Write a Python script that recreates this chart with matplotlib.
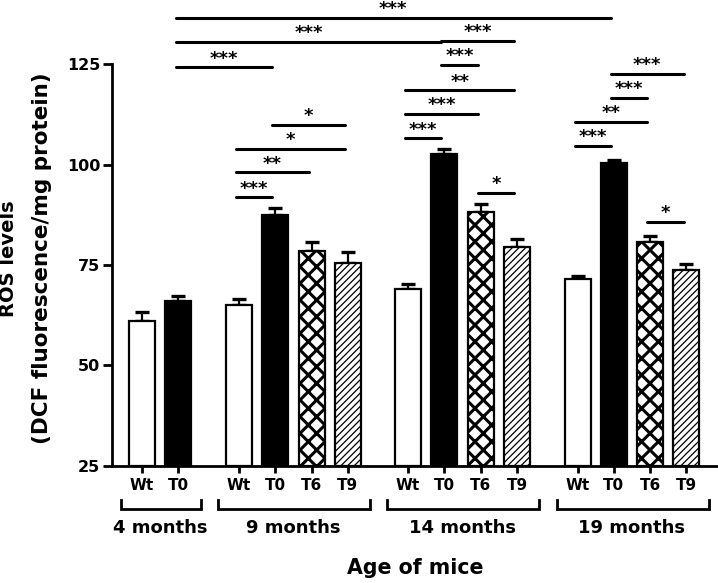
"""ROS levels by age of mice, grouped bar chart with significance brackets"""
import matplotlib
matplotlib.use("Agg")
import matplotlib.pyplot as plt

plt.rcParams["font.family"] = ["DejaVu Sans"]
plt.rcParams["font.weight"] = "bold"
plt.rcParams["hatch.linewidth"] = 2.0

GROUPS = ["4 months", "9 months", "14 months", "19 months"]
GROUP_START = [0.0, 2.67, 7.33, 12.0]
LABELS = [["Wt", "T0"], ["Wt", "T0", "T6", "T9"], ["Wt", "T0", "T6", "T9"], ["Wt", "T0", "T6", "T9"]]
MEANS = [[61.1, 66.0], [65.0, 87.4, 78.5, 75.4], [69.0, 102.6, 88.3, 79.6], [71.5, 100.4, 80.6, 73.8]]
ERRORS = [[2.2, 1.4], [1.5, 1.8, 2.3, 2.9], [1.3, 1.2, 1.9, 1.9], [0.8, 0.7, 1.7, 1.4]]

STYLE = {"Wt": ("white", ""), "T0": ("black", ""), "T6": ("white", "xx"), "T9": ("white", "/////")}

# significance brackets: (group a, bar a, group b, bar b, height, stars)
BRACKETS = [
    (0, 1, 3, 1, 136.5, "***"),
    (0, 1, 2, 1, 130.6, "***"),
    (0, 1, 1, 1, 124.2, "***"),
    (1, 0, 1, 1, 91.8, "***"),
    (1, 0, 1, 2, 98.1, "**"),
    (1, 0, 1, 3, 103.9, "*"),
    (1, 1, 1, 3, 109.9, "*"),
    (2, 0, 2, 1, 106.5, "***"),
    (2, 0, 2, 2, 112.6, "***"),
    (2, 0, 2, 3, 118.5, "**"),
    (2, 1, 2, 2, 124.8, "***"),
    (2, 1, 2, 3, 130.8, "***"),
    (2, 2, 2, 3, 93.0, "*"),
    (3, 0, 3, 1, 104.6, "***"),
    (3, 0, 3, 2, 110.6, "**"),
    (3, 1, 3, 2, 116.6, "***"),
    (3, 1, 3, 3, 122.6, "***"),
    (3, 2, 3, 3, 85.8, "*"),
]

fig = plt.figure(figsize=(7.18, 5.83), dpi=100)
ax = fig.add_axes([0.156, 0.2007, 0.844, 0.6895])

ticks, ticklabels = [], []
for g, labels in enumerate(LABELS):
    xs = [GROUP_START[g] + i for i in range(len(labels))]
    for x, lab, m, e in zip(xs, labels, MEANS[g], ERRORS[g]):
        face, hatch = STYLE[lab]
        ax.errorbar(x, m, yerr=[[0], [e]], fmt="none", ecolor="black",
                    elinewidth=1.6, capsize=5, capthick=2.4, zorder=1)
        bars = ax.bar(x, m - 25, bottom=25, width=0.72, color=face, edgecolor="black",
                      linewidth=1.6, hatch=hatch, zorder=2)
        if hasattr(bars[0], "set_hatch_linewidth"):
            bars[0].set_hatch_linewidth(2.2 if hatch == "xx" else 0.9)
        ticks.append(x)
        ticklabels.append(lab)
    # group bracket below the axis
    tr = ax.get_xaxis_transform()
    x0, x1 = xs[0] - 0.58, xs[-1] + 0.62
    ax.plot([x0, x0, x1, x1], [-0.085, -0.107, -0.107, -0.085], color="black",
            lw=2.0, transform=tr, clip_on=False, solid_joinstyle="miter")
    ax.text((xs[0] + xs[-1]) / 2, -0.154, GROUPS[g], transform=tr, ha="center",
            va="center", fontsize=13, fontweight="bold")

for ga, ia, gb, ib, h, stars in BRACKETS:
    xa = GROUP_START[ga] + ia - 0.08
    xb = GROUP_START[gb] + ib - 0.08
    ax.plot([xa, xb], [h, h], color="black", lw=2.2, clip_on=False, solid_capstyle="round")
    ax.text((xa + xb) / 2, h + 0.9, stars, ha="center", va="baseline", fontsize=13,
            fontweight="bold", clip_on=False)

ax.set_xlim(-0.83, 15.87)
ax.set_ylim(25, 125)
ax.set_yticks([25, 50, 75, 100, 125])
ax.set_xticks(ticks)
ax.set_xticklabels(ticklabels, fontsize=11, fontweight="bold")
ax.tick_params(axis="y", labelsize=11.5, width=2, length=6.5, pad=2)
ax.tick_params(axis="x", width=2, length=5, pad=4)
for lab in ax.get_yticklabels():
    lab.set_fontweight("bold")
ax.spines["top"].set_visible(False)
ax.spines["right"].set_visible(False)
ax.spines["left"].set_linewidth(2)
ax.spines["bottom"].set_linewidth(2)

ax.text(0.5, -0.254, "Age of mice", transform=ax.transAxes, ha="center", va="center",
        fontsize=14.8, fontweight="bold")
fig.text(0.0125, 0.557, "ROS levels", rotation=90, ha="center", va="center",
         fontsize=14, fontweight="bold")
fig.text(0.0585, 0.557, "(DCF fluorescence/mg protein)", rotation=90, ha="center",
         va="center", fontsize=15.5, fontweight="bold")

fig.savefig("out.png", dpi=100)
print("Saved out.png")
